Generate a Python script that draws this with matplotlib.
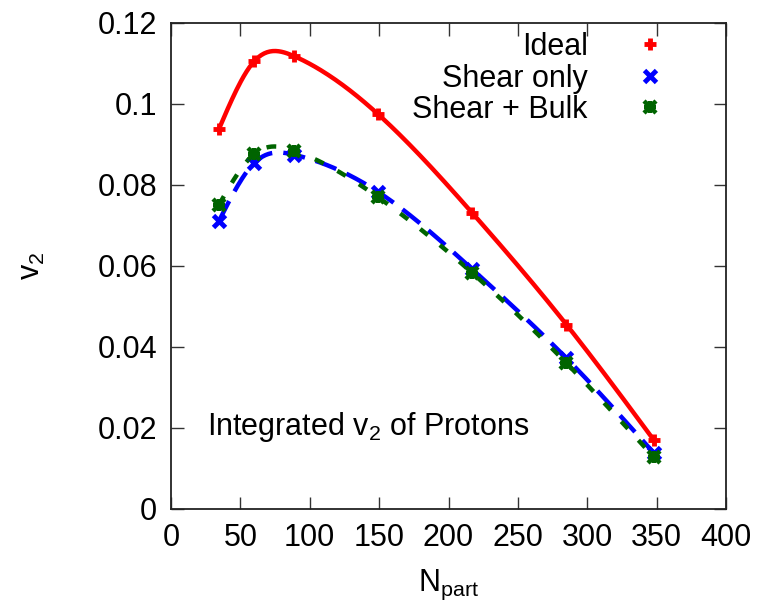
import numpy as np
import matplotlib
matplotlib.use('Agg')
import matplotlib.pyplot as plt
from matplotlib.legend_handler import HandlerTuple

plt.rcParams['font.family'] = ['Liberation Sans', 'DejaVu Sans']
plt.rcParams['mathtext.default'] = 'regular'

# data
npart = [34.6, 60.0, 89.0, 149.0, 217.0, 285.0, 348.0]
ideal = [0.0938, 0.1105, 0.1117, 0.0975, 0.0731, 0.0455, 0.0170]
shear = [0.0711, 0.0854, 0.0874, 0.0783, 0.0592, 0.0372, 0.0138]
shear_bulk = [0.0751, 0.0876, 0.0884, 0.0770, 0.0583, 0.0360, 0.0128]

series_labels = ['Ideal', 'Shear only', 'Shear + Bulk']
xticks = [0, 50, 100, 150, 200, 250, 300, 350, 400]
yticks = [0, 0.02, 0.04, 0.06, 0.08, 0.1, 0.12]
ytick_labels = ['0', '0.02', '0.04', '0.06', '0.08', '0.1', '0.12']


def natural_spline(x, y, n=300):
    # plain natural cubic spline, like gnuplot's smooth csplines
    x = np.asarray(x, float)
    y = np.asarray(y, float)
    k = len(x)
    h = np.diff(x)
    A = np.zeros((k, k))
    b = np.zeros(k)
    A[0, 0] = 1
    A[-1, -1] = 1
    for i in range(1, k - 1):
        A[i, i - 1] = h[i - 1]
        A[i, i] = 2 * (h[i - 1] + h[i])
        A[i, i + 1] = h[i]
        b[i] = 3 * ((y[i + 1] - y[i]) / h[i] - (y[i] - y[i - 1]) / h[i - 1])
    c = np.linalg.solve(A, b)
    xs = np.linspace(x[0], x[-1], n)
    idx = np.clip(np.searchsorted(x, xs) - 1, 0, k - 2)
    dx = xs - x[idx]
    bb = (y[idx + 1] - y[idx]) / h[idx] - h[idx] * (2 * c[idx] + c[idx + 1]) / 3
    dd = (c[idx + 1] - c[idx]) / (3 * h[idx])
    ys = y[idx] + bb * dx + c[idx] * dx ** 2 + dd * dx ** 3
    return xs, ys


fig = plt.figure(figsize=(7.67, 6.10), dpi=100)
ax = fig.add_axes([171 / 767, 1 - 509 / 610, 555 / 767, 486.3 / 610])

red = '#ff0000'
blue = '#0000ff'
green = '#006400'
fs = 22

xs, ys = natural_spline(npart, ideal)
ax.plot(xs, ys, color=red, lw=3.2, solid_capstyle='butt')
xs, ys = natural_spline(npart, shear)
ax.plot(xs, ys, color=blue, lw=3.2, dashes=(5, 2.5))
xs, ys = natural_spline(npart, shear_bulk)
ax.plot(xs, ys, color=green, lw=3.2, dashes=(2.2, 3.5))

h1, = ax.plot(npart, ideal, ls='none', marker='+', ms=9, mew=3.5, color=red)
h2, = ax.plot(npart, shear, ls='none', marker='x', ms=8, mew=3.5, color=blue)
h3a, = ax.plot(npart, shear_bulk, ls='none', marker='x', ms=8, mew=3.2,
               color=green)
h3b, = ax.plot(npart, shear_bulk, ls='none', marker='+', ms=9, mew=3.2,
               color=green)

ax.set_xlim(0, 400)
ax.set_ylim(0, 0.12)
ax.set_xticks(xticks)
ax.set_yticks(yticks)
ax.set_yticklabels(ytick_labels)
ax.tick_params(direction='in', length=9, width=1, labelsize=fs,
               top=True, right=True, pad=10, color='#333333')
for s in ax.spines.values():
    s.set_linewidth(1.3)
    s.set_color('#222222')

ax.set_xlabel(r'N$_{part}$', fontsize=fs, labelpad=11)
ax.set_ylabel(r'v$_{2}$', fontsize=fs, labelpad=36)

ax.text(26, 0.0203, r'Integrated v$_{2}$ of Protons', fontsize=fs,
        ha='left', va='center')

ax.legend([h1, h2, (h3a, h3b)], series_labels,
          handler_map={tuple: HandlerTuple(ndivide=1, pad=0)},
          loc='upper right', bbox_to_anchor=(664 / 767, 1 - 32 / 610),
          bbox_transform=fig.transFigure, frameon=False, markerfirst=False,
          fontsize=fs, handlelength=0.9, handletextpad=1.6, labelspacing=0.05,
          borderpad=0, borderaxespad=0, numpoints=1)

fig.savefig('out.png', dpi=100)
